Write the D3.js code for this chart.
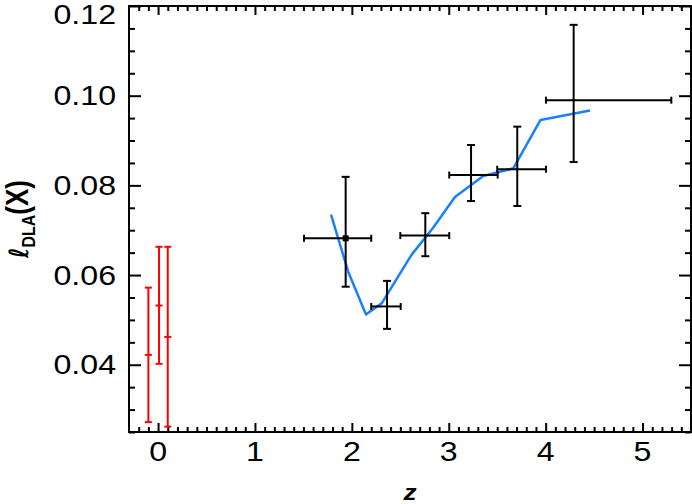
<!DOCTYPE html>
<html><head><meta charset="utf-8">
<script src="https://cdn.jsdelivr.net/npm/d3@7"></script>
<style>html,body{margin:0;padding:0;background:#fff;}</style>
</head><body><svg id="c" width="692" height="504"></svg>
<script>
// ---- data ----
const obsZ   = [1.936, 2.363, 2.758, 3.230, 3.707, 4.289];
const obsZLo = [1.506, 2.200, 2.500, 3.005, 3.500, 4.003];
const obsZHi = [2.200, 2.504, 3.005, 3.505, 4.003, 5.297];
const obsL   = [0.0682, 0.0530, 0.0688, 0.0823, 0.0836, 0.0990];
const obsLLo = [0.0574, 0.0480, 0.0642, 0.0765, 0.0754, 0.0852];
const obsLHi = [0.0819, 0.0587, 0.0738, 0.0890, 0.0931, 0.1158];
const lowZ   = [-0.10, 0.01, 0.10];
const lowL   = [0.0422, 0.0532, 0.0462];
const lowLLo = [0.0272, 0.0402, 0.0262];
const lowLHi = [0.0572, 0.0663, 0.0663];
const simZ = [1.785, 1.963, 2.146, 2.308, 2.615, 2.837, 3.064, 3.356, 3.666, 3.947, 4.458];
const simL = [0.0735, 0.0607, 0.0512, 0.0537, 0.0645, 0.0705, 0.0774, 0.0821, 0.0838, 0.0946, 0.0967];
const xTickValues = [0, 1, 2, 3, 4, 5];
const xTickLabels = ["0", "1", "2", "3", "4", "5"];
const yTickValues = [0.04, 0.06, 0.08, 0.10, 0.12];
const yTickLabels = ["0.04", "0.06", "0.08", "0.10", "0.12"];

// ---- layout ----
const L = 129, R = 691, T = 6, B = 432, SX = 1.19;
const FONT = "'Liberation Sans', Arial, Helvetica, sans-serif";
const svg = d3.select("#c");
const x = d3.scaleLinear().domain([-0.3, 5.5]).range([L, R]);
const y = d3.scaleLinear().domain([0.025, 0.12]).range([B, T]);

const xMinor = d3.range(-2, 55).map(d => d / 10).filter(d => !xTickValues.includes(d));
const yMinor = d3.range(5, 25).map(d => d * 0.005).filter(d => !yTickValues.some(v => Math.abs(v - d) < 1e-9));

function ticks(gen, tr) {
  svg.append("g").attr("transform", tr).call(gen).call(g => {
    g.select(".domain").remove();
    g.selectAll("text").remove();
    g.selectAll("line").attr("stroke", "#000").attr("stroke-width", 2);
  });
}
ticks(d3.axisBottom(x).tickValues(xTickValues).tickSize(-9), `translate(0,${B})`);
ticks(d3.axisBottom(x).tickValues(xMinor).tickSize(-5), `translate(0,${B})`);
ticks(d3.axisTop(x).tickValues(xTickValues).tickSize(-9), `translate(0,${T})`);
ticks(d3.axisTop(x).tickValues(xMinor).tickSize(-5), `translate(0,${T})`);
ticks(d3.axisLeft(y).tickValues(yTickValues).tickSize(-12), `translate(${L},0)`);
ticks(d3.axisLeft(y).tickValues(yMinor).tickSize(-6), `translate(${L},0)`);
ticks(d3.axisRight(y).tickValues(yTickValues).tickSize(-12), `translate(${R},0)`);
ticks(d3.axisRight(y).tickValues(yMinor).tickSize(-6), `translate(${R},0)`);

svg.append("rect").attr("x", L).attr("y", T).attr("width", R - L).attr("height", B - T)
  .attr("fill", "none").attr("stroke", "#000").attr("stroke-width", 2);

// tick labels
yTickValues.forEach((v, i) => {
  svg.append("text").attr("transform", `translate(116,${Math.max(y(v), 14.5)}) scale(${SX},1)`)
    .attr("text-anchor", "end").attr("dy", "0.36em").attr("font-family", FONT).attr("font-size", 27)
    .attr("fill", "#000").text(yTickLabels[i]);
});
xTickValues.forEach((v, i) => {
  svg.append("text").attr("transform", `translate(${x(v)},461) scale(${SX},1)`)
    .attr("text-anchor", "middle").attr("font-family", FONT).attr("font-size", 27)
    .attr("fill", "#000").text(xTickLabels[i]);
});

// axis titles
svg.append("text").attr("transform", `translate(${(L + R) / 2},500) scale(${SX},1)`)
  .attr("text-anchor", "middle").attr("font-family", FONT).attr("font-size", 22)
  .attr("font-weight", "bold").attr("font-style", "italic").text("z");
const yt = svg.append("text").attr("transform", `translate(28,219) scale(${SX},1) rotate(-90)`)
  .attr("text-anchor", "middle").attr("font-family", FONT).attr("font-weight", "bold").attr("font-size", 26);
yt.append("tspan").attr("font-family", "'DejaVu Sans', sans-serif").attr("font-style", "italic")
  .attr("font-weight", "bold").attr("font-size", 22).text("ℓ");
yt.append("tspan").attr("font-size", 16).attr("dy", 6).text("DLA");
yt.append("tspan").attr("dy", -6).text("(X)");

// simulation line
svg.append("path").datum(simZ.map((z, i) => [z, simL[i]]))
  .attr("d", d3.line().x(d => x(d[0])).y(d => y(d[1])))
  .attr("fill", "none").attr("stroke", "#1a80ff").attr("stroke-width", 2.5).attr("stroke-linejoin", "round");

// low-z red error bars
const red = svg.append("g").attr("stroke", "#ff0000").attr("stroke-width", 2);
lowZ.forEach((z, i) => {
  const cx = x(z);
  red.append("line").attr("x1", cx).attr("x2", cx).attr("y1", y(lowLLo[i])).attr("y2", y(lowLHi[i]));
  [lowLLo[i], lowLHi[i], lowL[i]].forEach(v => {
    red.append("line").attr("x1", cx - 3.5).attr("x2", cx + 3.5).attr("y1", y(v)).attr("y2", y(v));
  });
});

// observed black error bars
const blk = svg.append("g").attr("stroke", "#000").attr("stroke-width", 2);
obsZ.forEach((z, i) => {
  const cx = x(z), cy = y(obsL[i]);
  blk.append("line").attr("x1", x(obsZLo[i])).attr("x2", x(obsZHi[i])).attr("y1", cy).attr("y2", cy);
  blk.append("line").attr("x1", cx).attr("x2", cx).attr("y1", y(obsLLo[i])).attr("y2", y(obsLHi[i]));
  [obsZLo[i], obsZHi[i]].forEach(v => blk.append("line").attr("x1", x(v)).attr("x2", x(v)).attr("y1", cy - 3.5).attr("y2", cy + 3.5));
  [obsLLo[i], obsLHi[i]].forEach(v => blk.append("line").attr("x1", cx - 4).attr("x2", cx + 4).attr("y1", y(v)).attr("y2", y(v)));
});
svg.append("rect").attr("x", x(obsZ[0]) - 3).attr("y", y(obsL[0]) - 3).attr("width", 6).attr("height", 6).attr("fill", "#000");
</script>
</body></html>
